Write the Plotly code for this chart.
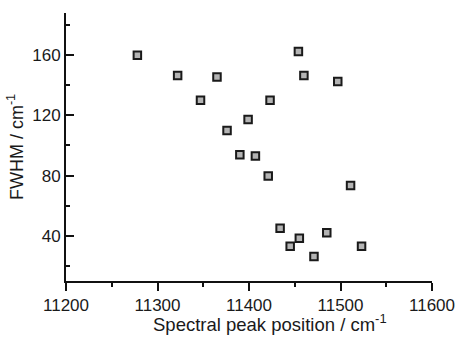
import plotly.graph_objects as go

peak_position = [11278, 11322, 11347, 11365, 11376, 11454, 11460, 11497, 11423, 11399,
                 11390, 11407, 11421, 11511, 11434, 11445, 11455, 11485, 11471, 11523]
fwhm = [160, 146.5, 130, 145.5, 110, 162.5, 146.5, 142.5, 130, 117.3,
        93.8, 93.1, 79.8, 73.5, 45, 33, 38.4, 42, 26.2, 33]
x_ticks = [11200, 11300, 11400, 11500, 11600]
y_ticks = [40, 80, 120, 160]

font_family = "Liberation Sans, Arial, sans-serif"

fig = go.Figure(go.Scatter(
    x=peak_position, y=fwhm, mode="markers",
    marker=dict(symbol="square", size=7.5, color="#b4b4b4",
                line=dict(color="#1a1a1a", width=2)),
    showlegend=False,
))

fig.update_layout(
    width=456, height=337,
    margin=dict(l=66, r=24, t=13, b=56),
    paper_bgcolor="white", plot_bgcolor="white",
    font=dict(family=font_family, size=17, color="#1a1a1a"),
    annotations=[dict(
        text="Spectral peak position / cm<sup>-1</sup>",
        xref="paper", yref="paper", x=0.557, y=-0.158,
        xanchor="center", yanchor="middle", showarrow=False,
        font=dict(size=18.5),
    )],
)
fig.update_xaxes(
    range=[11200, 11600], tickvals=x_ticks, ticktext=[str(v) for v in x_ticks],
    automargin=False,
    showgrid=False, zeroline=False, showline=True, linecolor="#111", linewidth=2,
    ticks="outside", ticklen=8, tickwidth=2, tickcolor="#111",
    tickfont=dict(size=17),
    minor=dict(ticks="outside", ticklen=4, tickwidth=2, tickcolor="#111",
               tick0=11250, dtick=100),
)
fig.update_yaxes(
    range=[10, 188], tickvals=y_ticks, ticktext=[str(v) for v in y_ticks],
    automargin=False,
    showgrid=False, zeroline=False, showline=True, linecolor="#111", linewidth=2,
    ticks="inside", ticklen=8, tickwidth=2, tickcolor="#111",
    tickfont=dict(size=17),
    minor=dict(ticks="inside", ticklen=4, tickwidth=2, tickcolor="#111",
               tick0=20, dtick=40),
    title=dict(text="FWHM / cm<sup>-1</sup>", standoff=4, font=dict(size=18)),
)

fig.write_html("out.html")
